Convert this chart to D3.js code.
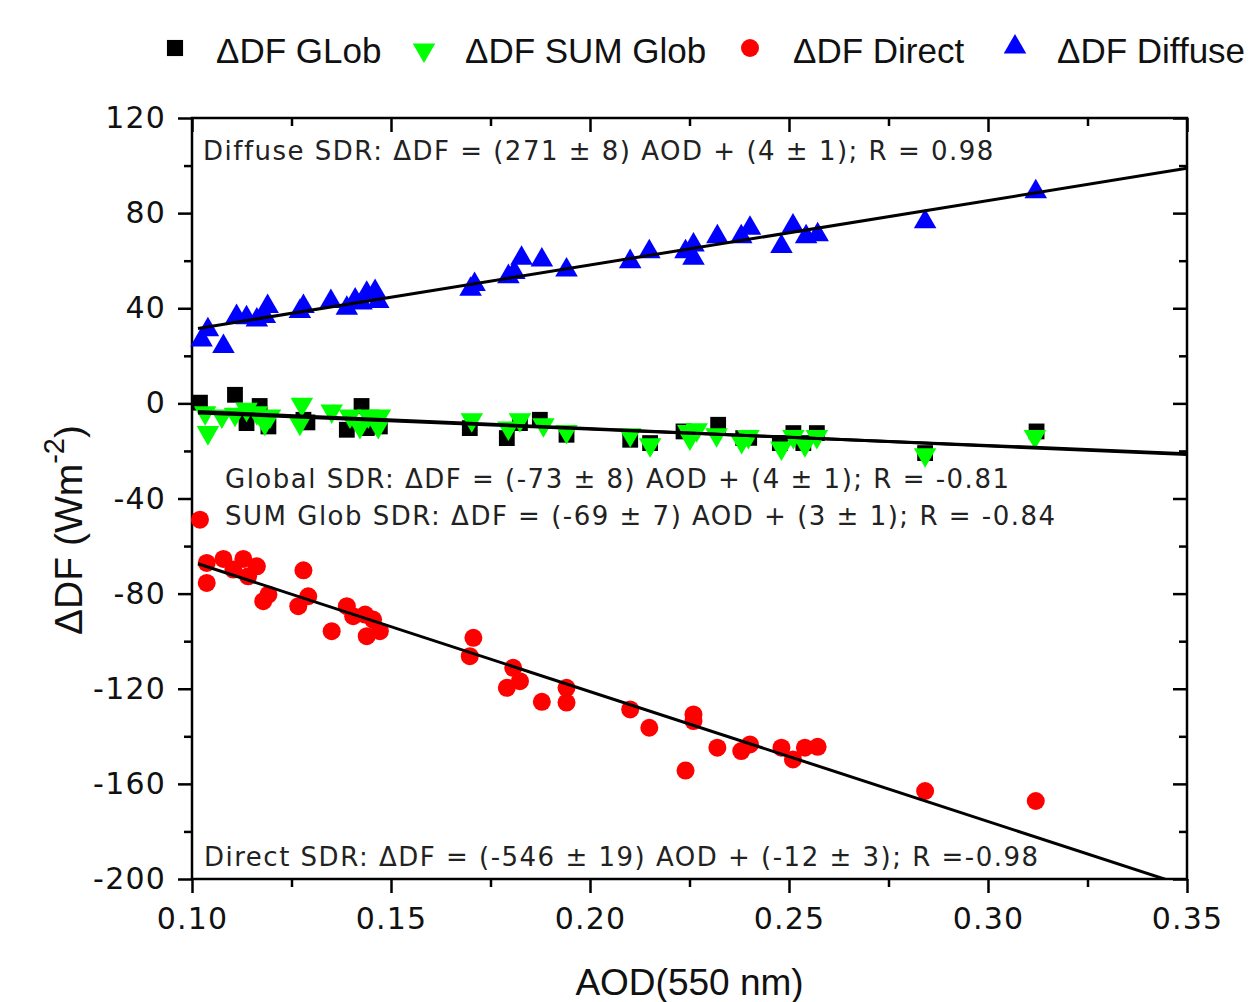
<!DOCTYPE html>
<html>
<head>
<meta charset="utf-8">
<script src="https://cdn.jsdelivr.net/npm/d3@7"></script>
<style>
  body { margin: 0; background: #fff; }
  svg { display: block; }
</style>
</head>
<body>
<div id="chart"></div>
<script>
// AOD(550 nm) vs Delta DF, one array per series: [aod, df]
const dfGlob = [
  [0.102, 0.3], [0.1108, 3.6], [0.1137, -8.3], [0.117, -1.1], [0.1192, -9.7],
  [0.128, -6.9], [0.129, -8], [0.1389, -11.1], [0.1426, -1.1], [0.1439, -10.4],
  [0.1472, -9.7], [0.1698, -10.4], [0.1791, -14.6], [0.1824, -8.3], [0.1874, -6.9],
  [0.1941, -13.2], [0.2101, -15.3], [0.2151, -16.7], [0.2235, -11.8], [0.2322, -9],
  [0.2385, -14.6], [0.240, -14.5], [0.2477, -16.7], [0.2511, -12.5], [0.2536, -16.7],
  [0.2570, -12.5], [0.2842, -20.9], [0.3122, -11.8]
];
const dfSumGlob = [
  [0.1033, -3.9], [0.104, -12.3], [0.1075, -5.3], [0.1108, -4.6], [0.1137, -2.5],
  [0.1163, -3.9], [0.1183, -8.3], [0.1196, -5.3], [0.1276, -0.4], [0.1271, -8.3],
  [0.1351, -3.2], [0.1397, -5.3], [0.1422, -9.7], [0.1443, -5.3], [0.1468, -9.7],
  [0.1472, -5.3], [0.1703, -6.9], [0.1795, -10.4], [0.1824, -6.9], [0.1883, -9],
  [0.1941, -11.8], [0.2101, -13.2], [0.2151, -17.4], [0.2247, -11.8], [0.2251, -14.6],
  [0.2268, -11.1], [0.2318, -13.2], [0.2381, -16], [0.2398, -13.9], [0.2481, -18.8],
  [0.2511, -13.9], [0.254, -17.4], [0.257, -13.9], [0.2842, -21.6], [0.3118, -13.9]
];
const dfDirect = [
  [0.102, -48.9], [0.1037, -67.1], [0.1037, -75.5], [0.1079, -65.4], [0.1104, -69.9],
  [0.1129, -65.4], [0.1141, -72.7], [0.1163, -68.5], [0.1179, -83.2], [0.1192, -80.4],
  [0.1267, -85.3], [0.128, -70.2], [0.1292, -81.1], [0.1351, -95.8], [0.1389, -85.3],
  [0.1405, -89.5], [0.1435, -88.8], [0.1439, -97.9], [0.1455, -90.9], [0.1472, -95.8],
  [0.1707, -98.6], [0.1698, -106.3], [0.1807, -111.2], [0.1791, -119.6], [0.1824, -116.8],
  [0.1879, -125.5], [0.1941, -119.6], [0.1941, -125.8], [0.2101, -128.7], [0.2149, -136.4],
  [0.224, -154.4], [0.226, -130.8], [0.226, -133.6], [0.232, -144.8], [0.238, -146.2],
  [0.2402, -143.4], [0.2481, -144.8], [0.251, -149.7], [0.254, -144.8], [0.2572, -144.4],
  [0.2842, -163], [0.312, -167.2]
];
const dfDiffuse = [
  [0.1024, 26.7], [0.104, 31], [0.1079, 23.9], [0.1112, 36.5], [0.1137, 36],
  [0.1163, 35.1], [0.1183, 36.5], [0.119, 40.7], [0.1271, 38.6], [0.128, 40.7],
  [0.1349, 42.8], [0.1389, 40], [0.141, 43.5], [0.1426, 42.2], [0.1439, 46.3],
  [0.146, 47], [0.1468, 42.8], [0.170, 48], [0.171, 50], [0.1795, 53.3],
  [0.181, 55], [0.1828, 61], [0.1879, 60.3], [0.1941, 56.1], [0.2101, 59.6],
  [0.2149, 63.8], [0.224, 63.8], [0.226, 66.6], [0.226, 61], [0.232, 70.1],
  [0.238, 70.1], [0.2402, 73.6], [0.2481, 66], [0.251, 74.6], [0.2543, 70.1],
  [0.2572, 70.9], [0.2842, 76.4], [0.312, 89]
];

// linear fits: [slope, intercept]
const fitNames = ["Diffuse", "Global", "SUM Glob", "Direct"];
const fitCoefs = [[271, 4], [-73, 4], [-69, 3], [-546, -12]];
const fitStart = 0.1015;

const legendLabels = ["\u0394DF GLob", "\u0394DF SUM Glob", "\u0394DF Direct", "\u0394DF Diffuse"];
const fitTexts = [
  "Diffuse SDR: \u0394DF = (271 \u00b1 8) AOD + (4 \u00b1 1); R = 0.98",
  "Global SDR: \u0394DF = (-73 \u00b1 8) AOD + (4 \u00b1 1); R = -0.81",
  "SUM Glob SDR: \u0394DF = (-69 \u00b1 7) AOD + (3 \u00b1 1); R = -0.84",
  "Direct SDR: \u0394DF = (-546 \u00b1 19) AOD + (-12 \u00b1 3); R =-0.98"
];
const xTicks = [0.10, 0.15, 0.20, 0.25, 0.30, 0.35];
const yTicks = [-200, -160, -120, -80, -40, 0, 40, 80, 120];

const width = 1253, height = 1002;
const pL = 192, pR = 1187, pT = 118, pB = 879;

const x = d3.scaleLinear().domain([0.10, 0.35]).range([pL, pR]);
const y = d3.scaleLinear().domain([-200, 120]).range([pB, pT]);

const svg = d3.select("#chart").append("svg")
  .attr("width", width)
  .attr("height", height);

const tickFont = "'DejaVu Sans', Verdana, sans-serif";
const labFont = "'Liberation Sans', Arial, sans-serif";

// minor ticks
const xMinor = d3.range(0.125, 0.35, 0.05);
const yMinor = d3.range(-180, 120, 40);

function styleAxis(g) {
  g.select(".domain").remove();
  g.selectAll("line").attr("stroke", "#000").attr("stroke-width", 2.5);
}

// bottom
svg.append("g").attr("transform", `translate(0,${pB})`)
  .call(d3.axisBottom(x).tickValues(xTicks).tickSize(14).tickPadding(15).tickFormat(d3.format(".2f")))
  .call(styleAxis)
  .selectAll("text").attr("font-family", tickFont).attr("font-size", 30)
  .attr("letter-spacing", 1.2).attr("fill", "#111");
svg.append("g").attr("transform", `translate(0,${pB})`)
  .call(d3.axisBottom(x).tickValues(xMinor).tickSize(8).tickFormat(""))
  .call(styleAxis);
// top (inward)
svg.append("g").attr("transform", `translate(0,${pT})`)
  .call(d3.axisBottom(x).tickValues(xTicks).tickSize(14).tickFormat(""))
  .call(styleAxis);
svg.append("g").attr("transform", `translate(0,${pT})`)
  .call(d3.axisBottom(x).tickValues(xMinor).tickSize(8).tickFormat(""))
  .call(styleAxis);
// left
svg.append("g").attr("transform", `translate(${pL},0)`)
  .call(d3.axisLeft(y).tickValues(yTicks).tickSize(14).tickPadding(12).tickFormat(d => String(d)))
  .call(styleAxis)
  .selectAll("text").attr("font-family", tickFont).attr("font-size", 30)
  .attr("letter-spacing", 1.2).attr("fill", "#111");
svg.append("g").attr("transform", `translate(${pL},0)`)
  .call(d3.axisLeft(y).tickValues(yMinor).tickSize(8).tickFormat(""))
  .call(styleAxis);
// right (inward)
svg.append("g").attr("transform", `translate(${pR},0)`)
  .call(d3.axisLeft(y).tickValues(yTicks).tickSize(14).tickFormat(""))
  .call(styleAxis);
svg.append("g").attr("transform", `translate(${pR},0)`)
  .call(d3.axisLeft(y).tickValues(yMinor).tickSize(8).tickFormat(""))
  .call(styleAxis);

// frame
svg.append("rect")
  .attr("x", pL).attr("y", pT)
  .attr("width", pR - pL).attr("height", pB - pT)
  .attr("fill", "none").attr("stroke", "#000").attr("stroke-width", 2.5);

// markers
const sq = d3.symbol().type(d3.symbolSquare).size(250);
const tri = d3.symbol().type(d3.symbolTriangle).size(220);
const series = [
  { data: dfGlob, sym: sq, fill: "#000", rot: 0 },
  { data: dfSumGlob, sym: tri, fill: "#00ff00", rot: 180 },
  { data: dfDiffuse, sym: tri, fill: "#0000ff", rot: 0 }
];
series.forEach(s => {
  svg.append("g").selectAll("path")
    .data(s.data)
    .enter()
    .append("path")
    .attr("d", s.sym)
    .attr("transform", d => `translate(${x(d[0])},${y(d[1])}) rotate(${s.rot})`)
    .attr("fill", s.fill);
});
svg.append("g").selectAll("circle")
  .data(dfDirect)
  .enter()
  .append("circle")
  .attr("cx", d => x(d[0]))
  .attr("cy", d => y(d[1]))
  .attr("r", 9)
  .attr("fill", "#ff0000");

// fit lines, clipped to the frame
svg.append("clipPath").attr("id", "plotclip")
  .append("rect").attr("x", pL).attr("y", pT)
  .attr("width", pR - pL).attr("height", pB - pT);
svg.append("g").attr("clip-path", "url(#plotclip)")
  .selectAll("line")
  .data(fitCoefs)
  .enter()
  .append("line")
  .attr("x1", x(fitStart))
  .attr("y1", d => y(d[0] * fitStart + d[1]))
  .attr("x2", x(0.35))
  .attr("y2", d => y(d[0] * 0.35 + d[1]))
  .attr("stroke", "#000")
  .attr("stroke-width", 3);

// fit equations
const eqPos = [[203, 160], [225, 488], [225, 525], [204, 866]];
svg.selectAll("text.eq")
  .data(fitTexts)
  .enter()
  .append("text")
  .attr("class", "eq")
  .attr("x", (d, i) => eqPos[i][0])
  .attr("y", (d, i) => eqPos[i][1])
  .attr("font-family", tickFont)
  .attr("font-size", 26)
  .attr("letter-spacing", 1.5)
  .attr("fill", "#222")
  .text(d => d);

// legend
const legX = [175, 424, 750, 1015];
const legTextX = [216, 465, 793, 1057];
const leg = svg.append("g");
leg.append("path").attr("d", d3.symbol().type(d3.symbolSquare).size(260))
  .attr("transform", `translate(${legX[0]},48)`).attr("fill", "#000");
leg.append("path").attr("d", tri)
  .attr("transform", `translate(${legX[1]},50) rotate(180)`).attr("fill", "#00ff00");
leg.append("circle").attr("cx", legX[2]).attr("cy", 48).attr("r", 9).attr("fill", "#ff0000");
leg.append("path").attr("d", tri)
  .attr("transform", `translate(${legX[3]},47)`).attr("fill", "#0000ff");
leg.selectAll("text")
  .data(legendLabels)
  .enter()
  .append("text")
  .attr("x", (d, i) => legTextX[i])
  .attr("y", 63)
  .attr("font-family", labFont)
  .attr("font-size", 35)
  .attr("fill", "#111")
  .text(d => d);

// axis titles
svg.append("text")
  .attr("x", (pL + pR) / 2)
  .attr("y", 995)
  .attr("text-anchor", "middle")
  .attr("font-family", labFont)
  .attr("font-size", 37)
  .attr("fill", "#111")
  .text("AOD(550 nm)");

const yt = svg.append("text")
  .attr("transform", `translate(82,530) rotate(-90)`)
  .attr("text-anchor", "middle")
  .attr("font-family", labFont)
  .attr("font-size", 39)
  .attr("fill", "#111");
yt.append("tspan").text("\u0394DF (Wm");
yt.append("tspan").attr("dy", -18).attr("font-size", 29).text("-2");
yt.append("tspan").attr("dy", 18).text(")");
</script>
</body>
</html>
